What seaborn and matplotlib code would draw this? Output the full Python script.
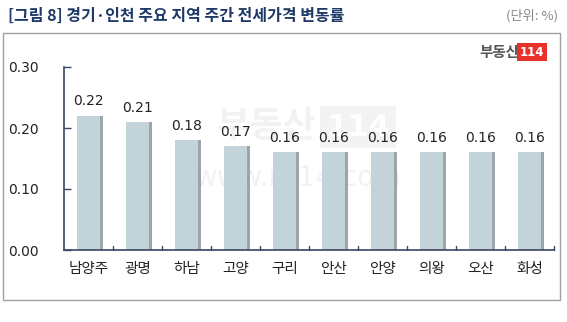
import matplotlib
matplotlib.use("Agg")
import matplotlib.pyplot as plt
import seaborn as sns
import pandas as pd
from matplotlib.patches import Rectangle

regions = ["남양주", "광명", "하남", "고양", "구리", "안산", "안양", "의왕", "오산", "화성"]
values = [0.22, 0.21, 0.18, 0.17, 0.16, 0.16, 0.16, 0.16, 0.16, 0.16]
yticks = [0.00, 0.10, 0.20, 0.30]
title = "[그림 8] 경기·인천 주요 지역 주간 전세가격 변동률"
unit = "(단위: %)"

sns.set_theme(style="white")
plt.rcParams['font.family'] = ['Noto Sans CJK KR', 'DejaVu Sans']

df = pd.DataFrame({"region": regions, "value": values})

fig = plt.figure(figsize=(5.67, 3.22), dpi=100)
W, H = 567, 322

# outer frame
fig.patches.append(Rectangle((3 / W, 1 - 300 / H), 557 / W, 267 / H, transform=fig.transFigure,
                             fill=False, edgecolor="#a0a0a0", linewidth=1.0))

ax = fig.add_axes([64 / W, 1 - 250 / H, (554 - 64) / W, (250 - 67) / H])
ax.set_facecolor("none")

# watermark (behind bars)
ax.text(266 / W, 1 - 127 / H, "부동산", fontsize=26, color="#000000", alpha=0.05,
        ha="center", va="center", fontweight="bold", zorder=0.2, transform=fig.transFigure)
ax.text(358 / W, 1 - 127 / H, "114", fontsize=22, color="white",
        ha="center", va="center", fontweight="bold", family=["DejaVu Sans"], zorder=0.2,
        transform=fig.transFigure,
        bbox=dict(boxstyle="square,pad=0.2", facecolor="#f3f3f3", edgecolor="none"))
ax.text(298 / W, 1 - 178 / H, "www.r114.com", fontsize=20, color="#000000", alpha=0.05,
        ha="center", va="center", family=["DejaVu Sans"], zorder=0.2, transform=fig.transFigure)

# shadow bars
sns.barplot(data=df, x="region", y="value", color="#8d9599", width=0.47, ax=ax,
            saturation=1, errorbar=None, linewidth=0)
for p in ax.patches:
    p.set_x(p.get_x() + 0.06)
    p.set_alpha(0.85)
sns.barplot(data=df, x="region", y="value", color="#c3d3da", width=0.47, ax=ax,
            saturation=1, errorbar=None, linewidth=0)

for i, v in enumerate(values):
    ax.text(i, v + 0.012, f"{v:.2f}", ha="center", va="bottom", fontsize=10,
            color="#222222", family=["DejaVu Sans"], zorder=5)

ax.set_ylim(0, 0.30)
ax.set_xlim(-0.5, len(regions) - 0.5)
ax.set_yticks(yticks)
ax.set_yticklabels([f"{t:.2f}" for t in yticks], fontsize=10, color="#222222", family=["DejaVu Sans"])
ax.set_xticks(range(len(regions)))
ax.set_xticklabels(regions, fontsize=10.5, color="#222222")
ax.set_xlabel("")
ax.set_ylabel("")
ax.tick_params(axis="x", length=0, pad=9)
ax.tick_params(axis="y", length=5, direction="in", color="#3b4566", width=1, pad=18, left=True)
for i in range(len(regions)):
    ax.plot([i + 0.5, i + 0.5], [0, 0.007], color="#3b4566", lw=1, clip_on=False)

for s in ["top", "right"]:
    ax.spines[s].set_visible(False)
for s in ["left", "bottom"]:
    ax.spines[s].set_color("#3b4566")
    ax.spines[s].set_linewidth(1.2)

# logo top-right
fig.text(519 / W, 1 - 52 / H, "부동산", fontsize=10.5, color="#555555", fontweight="bold",
         ha="right", va="center")
fig.text(532 / W, 1 - 52 / H, "114", fontsize=8.5, color="white", fontweight="bold",
         ha="center", va="center", family=["DejaVu Sans"],
         bbox=dict(boxstyle="square,pad=0.2", facecolor="#e8312a", edgecolor="none"))

fig.text(8 / W, 1 - 16 / H, title, fontsize=11.5, color="#1f3a68", fontweight="bold",
         ha="left", va="center")
fig.text(558 / W, 1 - 16 / H, unit, fontsize=9.5, color="#888888", ha="right", va="center")

fig.savefig("out.png", dpi=100)
